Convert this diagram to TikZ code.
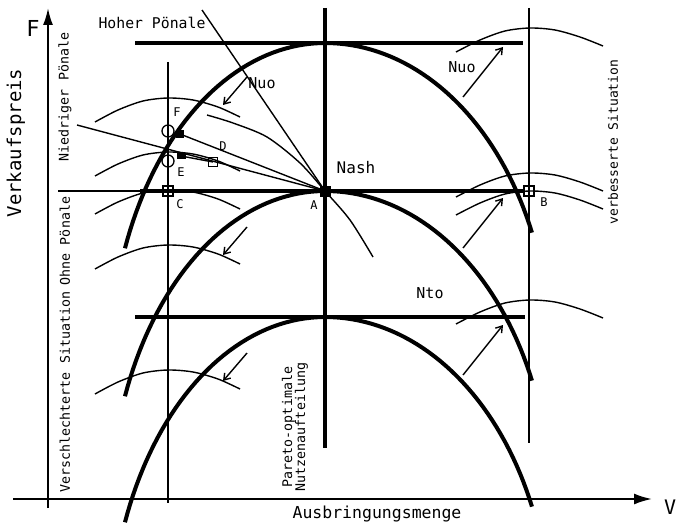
\documentclass[tikz,border=0pt]{standalone}
\usepackage{fontspec}
\newfontfamily\plotfont{DejaVu Sans Mono}
\usetikzlibrary{arrows.meta}
\begin{document}
\begin{tikzpicture}[x=1pt,y=-1pt,
  thickline/.style={line width=4pt},
  medline/.style={line width=2pt},
  thinline/.style={line width=1.4pt},
  axisline/.style={line width=2pt},
  fs/.style={font={\plotfont\fontsize{#1}{#1}\selectfont}, inner sep=0pt},
  sqmark/.style={draw, line width=1.3pt, minimum size=10pt, inner sep=0pt},
  sqfill/.style={fill=black, minimum size=8pt, inner sep=0pt},
  circmark/.style={circle, draw, line width=1.3pt, minimum size=12pt, inner sep=0pt},
  arr/.style={thinline, -{Straight Barb[length=6pt,width=8pt]}}]
\useasboundingbox (0,0) rectangle (679,524);
\fill[white] (0,0) rectangle (679,524);

% key points
\coordinate (A) at (325,191);
\coordinate (B) at (529,191);
\coordinate (C) at (168,191);
\coordinate (D) at (213,162);
\coordinate (Ec) at (168,161);
\coordinate (Es) at (181,156);
\coordinate (Fc) at (168,131);
\coordinate (Fs) at (180,134);
\coordinate (ys) at (48,508);
\coordinate (ye) at (48,8);
\coordinate (xs) at (13,499);
\coordinate (xe) at (652,499);

% axes
\draw[axisline,-{Latex[length=17pt,width=10pt]}] (ys) -- (ye);
\draw[axisline,-{Latex[length=18pt,width=11pt]}] (xs) -- (xe);

% vertical lines
\coordinate (Ct) at (168,62);  \coordinate (Cb) at (168,503);
\coordinate (Bt) at (529,8);   \coordinate (Bb) at (529,443);
\coordinate (Pt) at (325,8);   \coordinate (Pb) at (325,448);
\draw[thinline] (Ct) -- (Cb);
\draw[thinline] (Bt) -- (Bb);
\draw[thickline] (Pt) -- (Pb);

% horizontal lines
\draw[thickline] (135,43) -- (523,43);
\draw[medline] (58,191) -- (140,191);
\draw[thickline] (140,191) -- (525,191);
\draw[thickline] (135,317) -- (525,317);

% thick frontier curves
\foreach \yy in {43,191,317}
  \draw[thickline, shift={(325,\yy)}]
    plot[domain=68.5:0, samples=40, variable=\t] ({-215*sin(\t)},{324*(1-cos(\t))})
    -- plot[domain=0:66.9, samples=40, variable=\t] ({225*sin(\t)},{312*(1-cos(\t))});

% thin indifference arcs, left
\foreach \yy in {98,152,190,245,370}
  \draw[thinline, shift={(168,\yy)}] plot[smooth] coordinates
    {(-73,24) (-50,12) (-25,3) (0,0) (25,2) (50,9) (72,19)};
% thin indifference arcs, right
\foreach \yy in {28,173,191,300}
  \draw[thinline, shift={(530,\yy)}] plot[smooth] coordinates
    {(-74,24) (-50,12) (-25,3) (0,0) (25,2) (50,9) (73,18)};

% arrows
\foreach \yy in {77,227,353}
  \draw[arr] (247,\yy) -- ++(-24,28);
\foreach \yy in {97,248,375}
  \draw[arr] (463,\yy) -- ++(40,-50);

% lines to A
\draw[thinline] (202,10) -- (A);
\draw[thinline] (77,125) -- (A);
\draw[thinline] (Fs) -- (A);
\draw[thinline] (Es) -- (D);
\draw[thinline] plot[smooth] coordinates {(207,115) (233,123) (267,137) (300,163) (325,191) (350,220) (373,257)};

% markers
\node[sqmark] (mC) at (C) {};
\node[sqmark] (mB) at (B) {};
\node[sqmark, minimum size=9pt] (mD) at (D) {};
\node[sqfill, minimum size=11pt] (mA) at (A) {};
\node[sqfill] (mF) at (Fs) {};
\node[sqfill, minimum width=9pt, minimum height=6pt] (mE) at (Es) {};
\node[circmark] (cF) at (Fc) {};
\node[circmark] (cE) at (Ec) {};

% texts
\node[fs=22] (tF) at (33,28) {F};
\node[fs=20, anchor=west] (tV) at (664,507) {V};
\node[fs=19, rotate=90] (tVk) at (16,143) {Verkaufspreis};
\node[fs=16.5] (tAus) at (377,514) {Ausbringungsmenge};
\node[fs=14.8] (tHP) at (152,23) {Hoher Pönale};
\node[fs=13.3, rotate=90] (tNP) at (65,97) {Niedriger Pönale};
\node[fs=13.3, rotate=90] (tOP) at (65,241) {Ohne Pönale};
\node[fs=13.3, rotate=90] (tVS) at (65,392) {Verschlechterte Situation};
\node[fs=13, rotate=90] (tBS) at (613,142) {verbesserte Situation};
\node[font={\plotfont\fontsize{13.3}{13}\selectfont}, inner sep=0pt, rotate=90, align=center] (tPar) at (295,427) {Pareto-optimale\\Nutzenaufteilung};
\node[fs=16] (tNash) at (356,168) {Nash};
\node[fs=15] (tNuo1) at (262,83) {Nuo};
\node[fs=15] (tNuo2) at (462,67) {Nuo};
\node[fs=15] (tNto) at (430,293) {Nto};
\node[fs=12] (lF) at (177,112) {F};
\node[fs=12] (lE) at (181,172) {E};
\node[fs=12] (lD) at (223,146) {D};
\node[fs=12] (lC) at (180,204) {C};
\node[fs=12] (lA) at (314,205) {A};
\node[fs=12] (lB) at (544,202) {B};
\end{tikzpicture}
\end{document}
